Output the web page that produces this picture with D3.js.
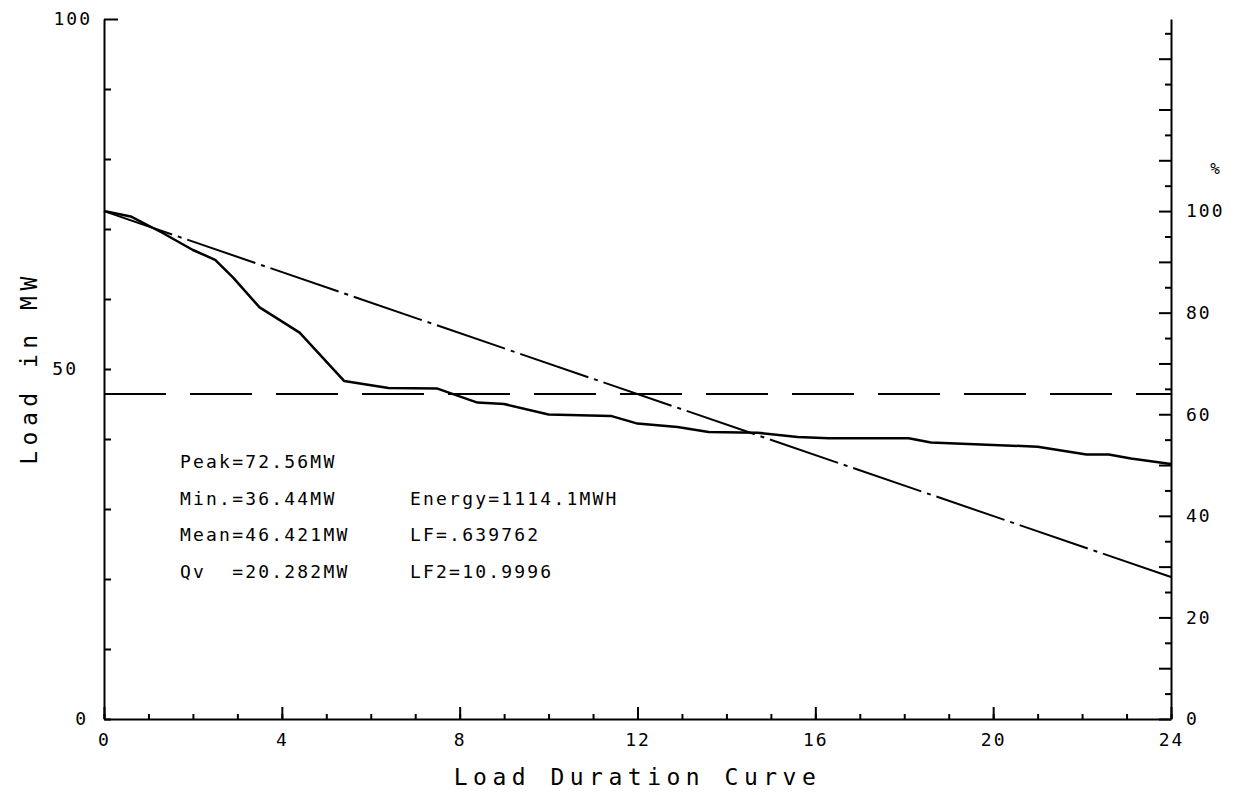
<!DOCTYPE html>
<html>
<head>
<meta charset="utf-8">
<script src="https://cdn.jsdelivr.net/npm/d3@7"></script>
<style>
  body { margin: 0; background: #fff; }
  text { font-family: "DejaVu Sans Mono", "Liberation Mono", monospace; fill: #000; }
  .axis path, .axis line { stroke: #000; stroke-width: 2; }
  .axis text { font-size: 18px; letter-spacing: 2px; }
  .title { font-size: 23px; letter-spacing: 5.5px; }
  .stat { font-size: 18px; letter-spacing: 2.2px; white-space: pre; }
</style>
</head>
<body>
<div class="chart"></div>
<script>
var svgWidth = 1242;
var svgHeight = 795;

// load duration curve, hours vs MW
var hours = [0, 0.6, 1.3, 2.0, 2.5, 2.9, 3.5, 4.4, 5.4, 6.4, 7.5, 8.4, 9.0, 10.0, 11.4, 12.0, 12.9, 13.6, 14.7, 15.6, 16.3, 18.1, 18.6, 21.0, 22.1, 22.6, 23.1, 24];
var loadMW = [72.56, 71.8, 69.5, 67.0, 65.6, 63.1, 58.8, 55.2, 48.3, 47.3, 47.2, 45.2, 45.0, 43.5, 43.3, 42.2, 41.7, 41.0, 40.9, 40.3, 40.1, 40.1, 39.5, 38.9, 37.8, 37.8, 37.2, 36.44];

var peakMW = 72.56;
var meanMW = 46.421;
var qvMW = 20.282;

var xTickLabels = [0, 4, 8, 12, 16, 20, 24];
var yTickLabels = [0, 50, 100];
var pctTickLabels = [0, 20, 40, 60, 80, 100];

var statsLeft = ["Peak=72.56MW", "Min.=36.44MW", "Mean=46.421MW", "Qv  =20.282MW"];
var statsRight = ["", "Energy=1114.1MWH", "LF=.639762", "LF2=10.9996"];

var plot = { left: 104, right: 1171, top: 19, bottom: 719 };

var svg = d3.select(".chart")
  .append("svg")
  .attr("width", svgWidth)
  .attr("height", svgHeight);

var xScale = d3.scaleLinear().domain([0, 24]).range([plot.left, plot.right]);
var yScale = d3.scaleLinear().domain([0, 100]).range([plot.bottom, plot.top]);
// right axis in percent of peak
var pctScale = d3.scaleLinear().domain([0, 100 * 100 / peakMW]).range([plot.bottom, plot.top]);

// x axis: minor ticks every hour, major every 4
svg.append("g")
  .attr("class", "axis")
  .attr("transform", `translate(0, ${plot.bottom})`)
  .call(d3.axisBottom(xScale).tickValues(d3.range(0, 25, 1)).tickSize(-5).tickFormat(""))
  .call(g => g.select(".domain").remove());

svg.append("g")
  .attr("class", "axis")
  .attr("transform", `translate(0, ${plot.bottom})`)
  .call(d3.axisBottom(xScale).tickValues(xTickLabels).tickSizeInner(-12).tickSizeOuter(0).tickPadding(14));

// left axis
var leftAxis = svg.append("g")
  .attr("class", "axis")
  .attr("transform", `translate(${plot.left}, 0)`)
  .call(d3.axisLeft(yScale).tickValues(d3.range(0, 101, 10))
    .tickSizeInner(-7).tickSizeOuter(0).tickPadding(14)
    .tickFormat(d => yTickLabels.includes(d) ? d : ""));

leftAxis.selectAll(".tick")
  .filter(d => d === 100)
  .select("line").attr("x2", 14);

// nudge the left labels the way the plotter placed them
var leftLabelShift = { 0: -2, 50: -12, 100: 2 };
leftAxis.selectAll(".tick text")
  .attr("dx", d => leftLabelShift[d] || 0);

// right axis in %
svg.append("g")
  .attr("class", "axis")
  .attr("transform", `translate(${plot.right}, 0)`)
  .call(d3.axisRight(pctScale).tickValues(d3.range(5, 136, 10)).tickSize(-6).tickFormat(""))
  .call(g => g.select(".domain").remove());

svg.append("g")
  .attr("class", "axis")
  .attr("transform", `translate(${plot.right}, 0)`)
  .call(d3.axisRight(pctScale).tickValues(d3.range(0, 131, 10))
    .tickSizeInner(-12).tickSizeOuter(0).tickPadding(15)
    .tickFormat(d => pctTickLabels.includes(d) ? d : ""));

svg.append("text")
  .attr("x", 1215)
  .attr("y", 174)
  .attr("text-anchor", "middle")
  .style("font-size", "16px")
  .text("%");

// mean load (dashed)
var line = d3.line()
  .x(d => xScale(d[0]))
  .y(d => yScale(d[1]));

svg.append("path")
  .datum([[0, meanMW], [24, meanMW]])
  .attr("d", line)
  .attr("fill", "none")
  .attr("stroke", "#000")
  .attr("stroke-width", 2)
  .attr("stroke-dasharray", "62,24");

// equivalent straight line peak -> Qv (dash-dot)
svg.append("path")
  .datum([[0, peakMW], [24, qvMW]])
  .attr("d", line)
  .attr("fill", "none")
  .attr("stroke", "#000")
  .attr("stroke-width", 2)
  .attr("stroke-dasharray", "72,6,4,6");

// load duration curve
svg.append("path")
  .datum(hours.map((h, i) => [h, loadMW[i]]))
  .attr("d", line)
  .attr("fill", "none")
  .attr("stroke", "#000")
  .attr("stroke-width", 2.5)
  .attr("stroke-linejoin", "round");

// statistics block
statsLeft.forEach(function(s, i) {
  svg.append("text")
    .attr("class", "stat")
    .attr("x", 180)
    .attr("y", 468 + i * 36.5)
    .text(s);
});
statsRight.forEach(function(s, i) {
  svg.append("text")
    .attr("class", "stat")
    .attr("x", 410)
    .attr("y", 468 + i * 36.5)
    .text(s);
});

// axis titles
svg.append("text")
  .attr("class", "title")
  .attr("x", (plot.left + plot.right) / 2)
  .attr("y", 785)
  .attr("text-anchor", "middle")
  .text("Load Duration Curve");

svg.append("text")
  .attr("class", "title")
  .attr("transform", "translate(37, 368) rotate(-90)")
  .attr("text-anchor", "middle")
  .text("Load in MW");
</script>
</body>
</html>
